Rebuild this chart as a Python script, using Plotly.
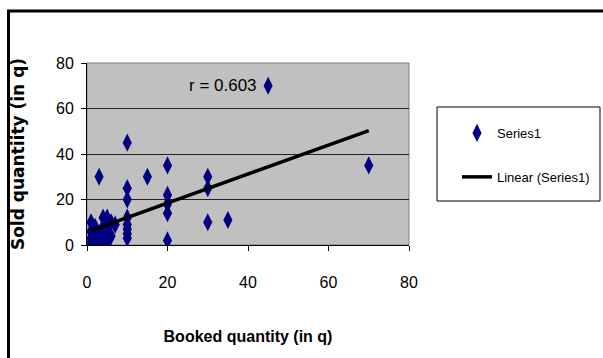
import numpy as np
import plotly.graph_objects as go

# Data
booked = [45, 70, 10, 3, 15, 20, 20, 20, 20, 20,
          10, 10, 10, 10, 10, 10, 10, 30, 30, 30, 35,
          1, 1, 1, 1, 2, 2, 2, 3, 3, 3, 4, 4, 4, 4, 5, 5, 5, 5, 6, 6, 7]
sold = [70, 35, 45, 30, 30, 35, 22, 18, 14, 2,
        25, 20, 12, 9, 7, 5, 3, 30, 25, 10, 11,
        10, 6, 3, 1, 8, 4, 1, 5, 2, 0, 12, 8, 3, 1, 12, 6, 2, 0, 10, 4, 9]
x_ticks = [0, 20, 40, 60, 80]
y_ticks = [0, 20, 40, 60, 80]
r_label = "r = 0.603"

xa = np.array(booked, float)
ya = np.array(sold, float)
slope, intercept = np.polyfit(xa, ya, 1)
tx = [xa.min(), xa.max()]
ty = [slope * v + intercept for v in tx]

fig = go.Figure()
fig.add_trace(go.Scatter(
    x=booked, y=sold, mode="markers", name="Series1", legendgroup="a",
    marker=dict(symbol="diamond-tall", size=13, color="#000080", line=dict(width=0)),
))
fig.add_trace(go.Scatter(
    x=tx, y=ty, mode="lines", name="Linear (Series1)", legendgroup="b",
    line=dict(color="black", width=3.5),
))

L, R, T, B = 87, 194, 63, 113
W, H = 603, 358
pw, ph = W - L - R, H - T - B

def px(xp):
    return (xp - L) / pw

def py(yp):
    return (H - B - yp) / ph

font = "Liberation Sans, Arial, sans-serif"

fig.update_layout(
    width=W, height=H,
    margin=dict(l=L, r=R, t=T, b=B, pad=0, autoexpand=False),
    paper_bgcolor="white",
    plot_bgcolor="#C0C0C0",
    font=dict(family=font, size=16, color="black"),
    showlegend=True,
    legend=dict(
        x=px(457), y=py(118), xanchor="left", yanchor="top",
        bgcolor="rgba(0,0,0,0)", borderwidth=0,
        font=dict(family=font, size=13, color="black"),
        tracegroupgap=24,
    ),
    xaxis=dict(
        range=[0, 80], tickvals=x_ticks, ticktext=[str(v) for v in x_ticks],
        showgrid=False, zeroline=False,
        showline=True, linecolor="black", linewidth=1,
        ticks="outside", ticklen=5, tickcolor="black",
        ticklabelstandoff=18,
        tickfont=dict(family=font, size=16),
        title=dict(text="<b>Booked quantity (in q)</b>", standoff=40,
                   font=dict(family=font, size=16)),
    ),
    yaxis=dict(
        range=[0, 80], tickvals=y_ticks, ticktext=[str(v) for v in y_ticks],
        showgrid=True, gridcolor="#222222", gridwidth=1,
        zeroline=False,
        showline=True, linecolor="black", linewidth=1,
        ticks="outside", ticklen=5, tickcolor="black",
        ticklabelstandoff=4,
        tickfont=dict(family=font, size=16),
        title=dict(text="<b>Sold quantiity (in q)</b>", standoff=27,
                   font=dict(family="DejaVu Sans, sans-serif", size=17)),
    ),
    shapes=[
        # plot-area border
        dict(type="rect", xref="paper", yref="paper", x0=0, x1=1, y0=0, y1=1,
             line=dict(color="#808080", width=1), layer="below"),
        # legend box
        dict(type="rect", xref="paper", yref="paper",
             x0=px(437), x1=px(600), y0=py(201), y1=py(107),
             line=dict(color="black", width=1), fillcolor="white", layer="below"),
        # outer chart frame
        dict(type="rect", xref="paper", yref="paper",
             x0=px(8.5), x1=px(640), y0=py(400), y1=py(11),
             line=dict(color="black", width=3)),
    ],
    annotations=[
        dict(text=r_label, x=px(223), y=py(85), xref="paper", yref="paper",
             xanchor="center", yanchor="middle",
             showarrow=False, font=dict(family=font, size=17)),
    ],
)

fig.write_html("out.html")
